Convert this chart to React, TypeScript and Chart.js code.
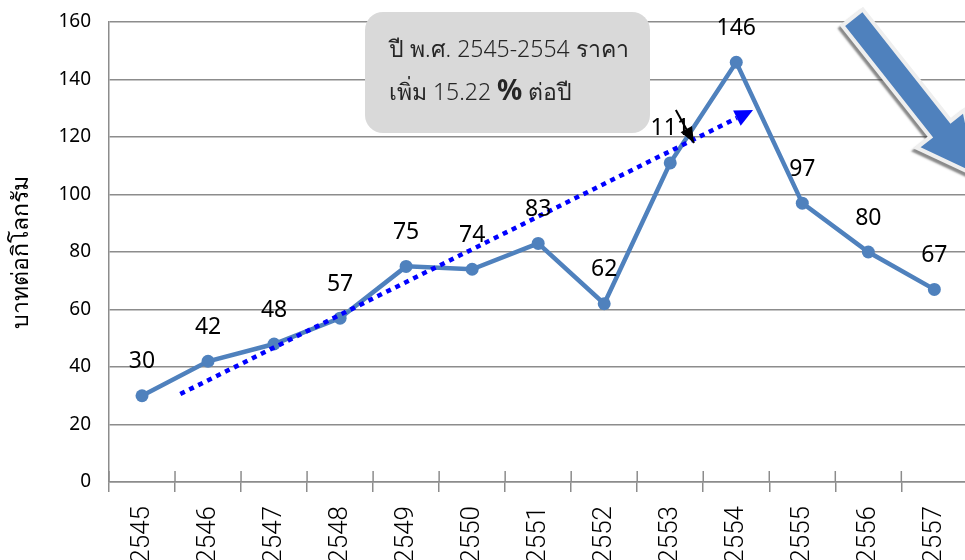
import React, { useEffect, useRef } from "react";
import { Chart, registerables } from "chart.js";

Chart.register(...registerables);

// ---- data ----
const years = ["2545", "2546", "2547", "2548", "2549", "2550", "2551", "2552", "2553", "2554", "2555", "2556", "2557"];
const prices = [30, 42, 48, 57, 75, 74, 83, 62, 111, 146, 97, 80, 67];
// trend arrow (dotted) in index / value coordinates
const trendX = [0.58, 9.01];
const trendY = [30.6, 126.6];
// black pointer arrow (index / value)
const pointerX = [8.085, 8.36];
const pointerY = [129.4, 117.9];
// big decreasing arrow (index / value)
const bigArrowX = [10.78, 12.62];
const bigArrowY = [161, 107.5];

const yMin = 0;
const yMax = 160;
const yStep = 20;
const yAxisTitle = "บาทต่อกิโลกรัม";
const noteLine1 = "ปี พ.ศ. 2545-2554 ราคา";
const noteLine2a = "เพิ่ม 15.22 ";
const notePercent = "%";
const noteLine2b = " ต่อปี";

const BLUE = "#4f81bd";
const GRID = "#8c8c8c";
const NUM_FONT = "'Noto Sans', 'Liberation Sans', sans-serif";
const THAI_FONT = "'Noto Sans', 'DejaVu Sans', sans-serif";

function arrowHead(ctx: CanvasRenderingContext2D, x0: number, y0: number, x1: number, y1: number, len: number, w: number, color: string, fromTip: boolean) {
  const dx = x1 - x0, dy = y1 - y0;
  const L = Math.hypot(dx, dy);
  const ux = dx / L, uy = dy / L;
  const px = -uy, py = ux;
  let tx = x1, ty = y1;
  if (!fromTip) { tx = x1 + ux * len; ty = y1 + uy * len; }
  const bx = tx - ux * len, by = ty - uy * len;
  ctx.beginPath();
  ctx.moveTo(tx, ty);
  ctx.lineTo(bx + px * w / 2, by + py * w / 2);
  ctx.lineTo(bx - px * w / 2, by - py * w / 2);
  ctx.closePath();
  ctx.fillStyle = color;
  ctx.fill();
}

function blockArrowPath(ctx: CanvasRenderingContext2D, x0: number, y0: number, x1: number, y1: number, sw: number, hw: number, hl: number) {
  const dx = x1 - x0, dy = y1 - y0;
  const L = Math.hypot(dx, dy);
  const ux = dx / L, uy = dy / L;
  const px = -uy, py = ux;
  const bx = x1 - ux * hl, by = y1 - uy * hl;
  ctx.beginPath();
  ctx.moveTo(x0 + px * sw / 2, y0 + py * sw / 2);
  ctx.lineTo(bx + px * sw / 2, by + py * sw / 2);
  ctx.lineTo(bx + px * hw / 2, by + py * hw / 2);
  ctx.lineTo(x1, y1);
  ctx.lineTo(bx - px * hw / 2, by - py * hw / 2);
  ctx.lineTo(bx - px * sw / 2, by - py * sw / 2);
  ctx.lineTo(x0 - px * sw / 2, y0 - py * sw / 2);
  ctx.closePath();
}

const decorPlugin = {
  id: "decor",
  afterDatasetsDraw(chart: any) {
    const ctx: CanvasRenderingContext2D = chart.ctx;
    const xs = chart.scales.x2;
    const ys = chart.scales.y;
    const area = chart.chartArea;

    // tick marks above the x axis at category boundaries
    ctx.save();
    ctx.strokeStyle = GRID;
    ctx.lineWidth = 1.5;
    for (let i = 0; i <= years.length; i++) {
      const px = xs.getPixelForValue(i - 0.5);
      ctx.beginPath();
      ctx.moveTo(px, area.bottom - 11);
      ctx.lineTo(px, area.bottom);
      ctx.stroke();
    }
    ctx.restore();

    // trend arrowhead
    {
      const x0 = xs.getPixelForValue(trendX[0]), y0 = ys.getPixelForValue(trendY[0]);
      const x1 = xs.getPixelForValue(trendX[1]), y1 = ys.getPixelForValue(trendY[1]);
      ctx.save();
      arrowHead(ctx, x0, y0, x1, y1, 18, 17, "#0000ff", false);
      ctx.restore();
    }

    // note box
    ctx.save();
    const bx = 365, by = 12, bw = 285, bh = 121, r = 18;
    ctx.beginPath();
    ctx.moveTo(bx + r, by);
    ctx.arcTo(bx + bw, by, bx + bw, by + bh, r);
    ctx.arcTo(bx + bw, by + bh, bx, by + bh, r);
    ctx.arcTo(bx, by + bh, bx, by, r);
    ctx.arcTo(bx, by, bx + bw, by, r);
    ctx.closePath();
    ctx.fillStyle = "#d9d9d9";
    ctx.fill();
    ctx.fillStyle = "#262626";
    ctx.textBaseline = "middle";
    ctx.textAlign = "left";
    ctx.font = `300 23px ${THAI_FONT}`;
    ctx.fillText(noteLine1, 389, 50);
    let tx = 389;
    ctx.fillText(noteLine2a, tx, 93);
    tx += ctx.measureText(noteLine2a).width;
    ctx.font = `bold 28px ${NUM_FONT}`;
    ctx.fillText(notePercent, tx, 92);
    tx += ctx.measureText(notePercent).width;
    ctx.font = `300 23px ${THAI_FONT}`;
    ctx.fillText(noteLine2b, tx, 93);
    ctx.restore();

    // data labels
    const meta = chart.getDatasetMeta(1);
    ctx.save();
    ctx.fillStyle = "#000";
    ctx.font = `23px ${NUM_FONT}`;
    ctx.textAlign = "center";
    ctx.textBaseline = "middle";
    meta.data.forEach((pt: any, i: number) => {
      ctx.fillText(String(prices[i]), pt.x, pt.y - 34);
    });
    ctx.restore();

    // black pointer arrow
    {
      const x0 = xs.getPixelForValue(pointerX[0]), y0 = ys.getPixelForValue(pointerY[0]);
      const x1 = xs.getPixelForValue(pointerX[1]), y1 = ys.getPixelForValue(pointerY[1]);
      ctx.save();
      ctx.strokeStyle = "#000";
      ctx.lineWidth = 2;
      ctx.beginPath();
      ctx.moveTo(x0, y0);
      ctx.lineTo(x1, y1);
      ctx.stroke();
      arrowHead(ctx, x0, y0, x1, y1, 16, 13, "#000", true);
      ctx.restore();
    }

    // big block arrow
    {
      const x0 = xs.getPixelForValue(bigArrowX[0]), y0 = ys.getPixelForValue(bigArrowY[0]);
      const x1 = xs.getPixelForValue(bigArrowX[1]), y1 = ys.getPixelForValue(bigArrowY[1]);
      ctx.save();
      ctx.shadowColor = "rgba(60,60,60,0.6)";
      ctx.shadowOffsetX = -2;
      ctx.shadowOffsetY = 3;
      ctx.shadowBlur = 2;
      blockArrowPath(ctx, x0, y0, x1, y1, 22, 54, 54);
      ctx.strokeStyle = "#efefef";
      ctx.lineWidth = 8;
      ctx.lineJoin = "miter";
      ctx.stroke();
      ctx.shadowColor = "transparent";
      blockArrowPath(ctx, x0, y0, x1, y1, 22, 54, 54);
      ctx.fillStyle = BLUE;
      ctx.fill();
      ctx.restore();
    }
  },
};

export default function App() {
  const ref = useRef<HTMLCanvasElement | null>(null);

  useEffect(() => {
    if (!ref.current) return;
    const chart = new Chart(ref.current, {
      type: "line",
      data: {
        labels: years,
        datasets: [
          {
            label: "trend",
            data: trendX.map((x, i) => ({ x, y: trendY[i] })),
            xAxisID: "x2",
            yAxisID: "y",
            borderColor: "#0000ff",
            borderWidth: 4.5,
            borderDash: [5, 5],
            pointRadius: 0,
            fill: false,
            order: 0,
          } as any,
          {
            label: "price",
            data: prices,
            xAxisID: "x",
            yAxisID: "y",
            borderColor: BLUE,
            backgroundColor: BLUE,
            borderWidth: 4.5,
            pointRadius: 6.5,
            pointBackgroundColor: BLUE,
            pointBorderColor: BLUE,
            pointBorderWidth: 0,
            tension: 0,
            fill: false,
            order: 1,
          },
        ],
      },
      options: {
        responsive: false,
        animation: false,
        devicePixelRatio: 1,
        layout: { padding: { top: 22, right: 12, left: 0, bottom: 0 } },
        plugins: {
          legend: { display: false },
          tooltip: { enabled: false },
          title: { display: false },
        },
        scales: {
          x: {
            type: "category",
            offset: true,
            grid: {
              offset: true,
              drawOnChartArea: false,
              drawTicks: true,
              tickLength: 10,
              color: GRID,
              lineWidth: 1.5,
            },
            border: { display: true, color: GRID, width: 1.5 },
            ticks: {
              minRotation: 90,
              maxRotation: 90,
              autoSkip: false,
              padding: 14,
              color: "#000",
              font: { family: "Roboto, 'DejaVu Sans', sans-serif", size: 26, weight: "300" as any },
            },
            afterFit: (s: any) => { s.height = 600 - 482; },
          },
          x2: {
            type: "linear",
            display: false,
            min: -0.5,
            max: 12.5,
            offset: false,
          },
          y: {
            min: yMin,
            max: yMax,
            ticks: {
              stepSize: yStep,
              padding: 18,
              color: "#000",
              font: { family: NUM_FONT, size: 19 },
            },
            grid: { color: GRID, lineWidth: 1.5, drawTicks: false },
            border: { display: true, color: GRID, width: 1.5 },
            title: {
              display: true,
              text: yAxisTitle,
              color: "#000",
              font: { family: THAI_FONT, size: 23, weight: "300" as any },
              padding: { top: 8, bottom: 0 },
            },
            afterFit: (s: any) => { s.width = 109; s.paddingTop = 0; s.paddingBottom = 0; },
          },
        },
      },
      plugins: [decorPlugin],
    });
    return () => chart.destroy();
  }, []);

  return (
    <div style={{ position: "fixed", left: 0, top: 0, width: 965, height: 560, overflow: "hidden", background: "#fff" }}>
      <canvas ref={ref} width={980} height={600} style={{ display: "block", width: 980, height: 600 }} />
    </div>
  );
}
